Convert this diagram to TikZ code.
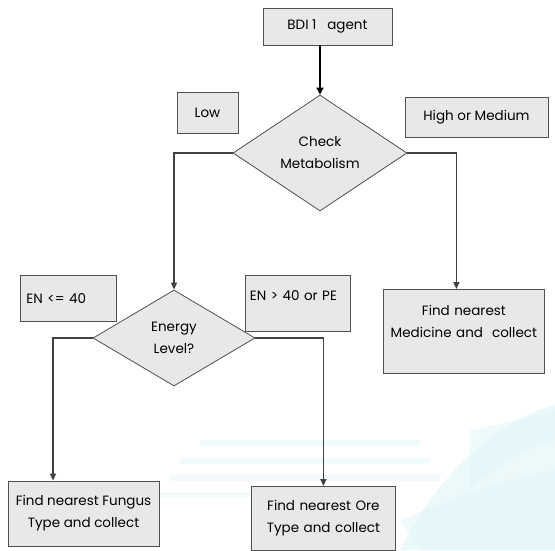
\documentclass[tikz,border=0pt]{standalone}
\usepackage{fontspec}
\setmainfont{Poppins}
\usetikzlibrary{shapes.geometric,arrows.meta}
\definecolor{boxfill}{HTML}{E8E8E8}
\definecolor{boxline}{HTML}{505050}
\definecolor{linegray}{HTML}{404040}
\definecolor{wm}{HTML}{E3F7FA}
\tikzset{
  box/.style={draw=boxline, fill=boxfill, line width=0.8pt, inner sep=2pt, align=center, font=\fontsize{13.5}{22}\selectfont},
  dec/.style={draw=boxline, fill=boxfill, line width=0.8pt, shape=diamond, inner sep=0pt, align=center, font=\fontsize{13.5}{22}\selectfont},
  conn/.style={draw=linegray, line width=1.4pt, -{Triangle[length=7pt,width=6pt]}},
  connthick/.style={draw=black, line width=2pt, -{Triangle[length=7pt,width=7pt]}}
}
\begin{document}
\begin{tikzpicture}[x=1pt,y=-1pt]
\useasboundingbox[fill=white] (0,0) rectangle (555,550);
% watermark
\fill[wm,opacity=0.7] (555,405) .. controls (500,420) and (440,470) .. (400,550) -- (555,550) -- cycle;
\fill[wm,opacity=0.6] (470,430) .. controls (500,425) and (540,415) .. (555,410) -- (555,440) .. controls (520,450) and (490,470) .. (470,490) -- cycle;
\fill[wm,opacity=0.45] (200,440) rectangle (420,446);
\fill[wm,opacity=0.45] (180,458) rectangle (430,464);
\fill[wm,opacity=0.45] (170,475) rectangle (440,481);
\fill[wm,opacity=0.4] (160,492) rectangle (250,498);
\fill[wm,opacity=0.5] (400,520) .. controls (450,500) and (500,480) .. (555,470) -- (555,550) -- (420,550) -- cycle;
% nodes
\node[box, minimum width=129pt, minimum height=37pt] (bdi) at (327.5,26.5) {BDI 1 \ \ agent};
\node[dec, minimum width=174pt, minimum height=116pt, aspect=1.5] (cm) at (320,153) {Check\\Metabolism};
\node[box, minimum width=61pt, minimum height=41pt] (low) at (207.5,112.5) {Low};
\node[box, minimum width=143pt, minimum height=40pt] (hm) at (476.5,117) {High or Medium};
\node[dec, minimum width=162pt, minimum height=96pt, aspect=1.69] (el) at (174,338) {Energy\\Level?};
\node[box, minimum width=96pt, minimum height=46pt, anchor=north west, text width=84pt, align=left] (le) at (20,275) {EN <= 40};
\node[box, minimum width=105pt, minimum height=56pt, anchor=north west, text width=96pt, align=left] (gt) at (245,275) {EN > 40 or PE\\[-6pt]\mbox{}};
\node[box, minimum width=161pt, minimum height=84pt, anchor=north west, text width=155pt, align=center] (med) at (383,289) {Find nearest\\Medicine and \ collect\\[-2pt]\mbox{}};
\node[box, minimum width=151pt, minimum height=65pt] (fun) at (83.5,513.5) {Find nearest Fungus\\Type and collect};
\node[box, minimum width=144pt, minimum height=64pt, anchor=north west, text width=138pt, align=center] (ore) at (251,486) {Find nearest Ore\\Type and collect};
% connectors
\draw[connthick] (bdi.south -| cm.north) -- (cm.north);
\coordinate (medin) at ([xshift=-7.5pt]med.north);
\coordinate (funin) at ([xshift=-30.5pt]fun.north);
\draw[conn] (cm.west) -| (el.north);
\draw[conn] (cm.east) -| (medin);
\draw[conn] (el.west) -| (funin);
\draw[conn] (el.east) -| (ore.north);
\end{tikzpicture}
\end{document}
